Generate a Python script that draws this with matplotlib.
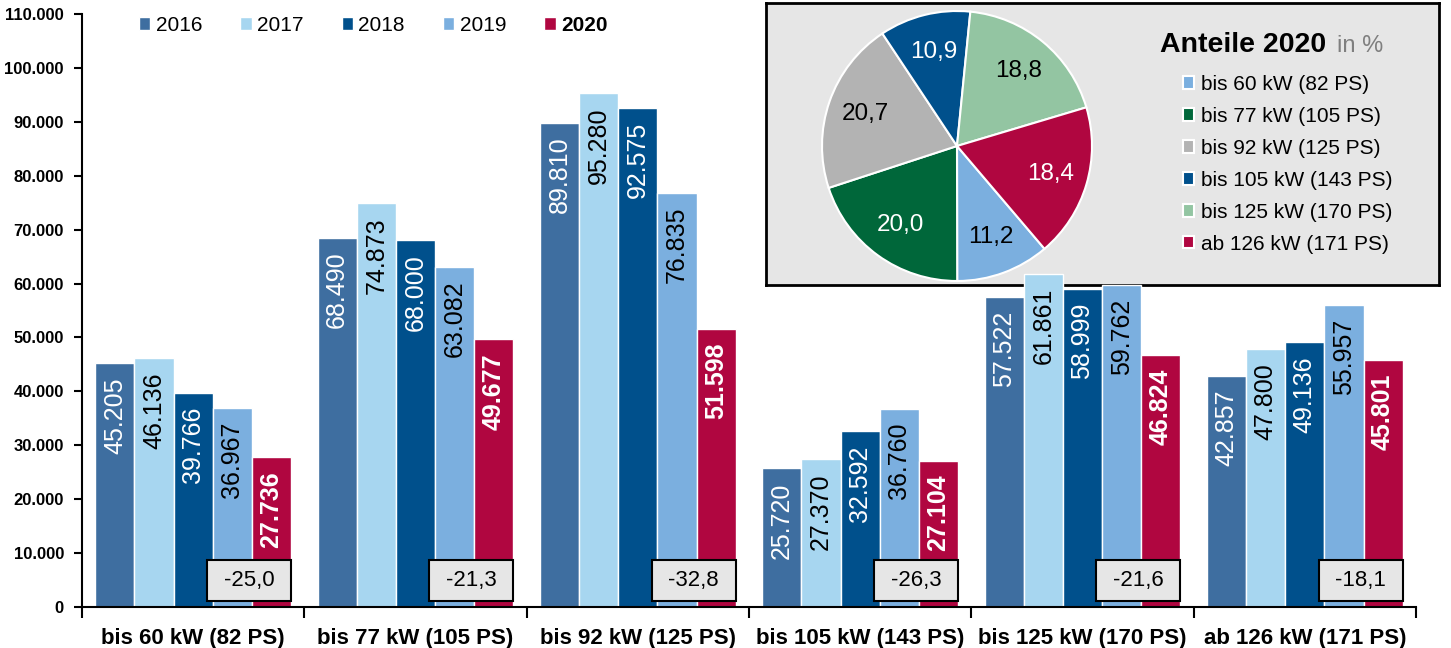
import numpy as np
import matplotlib.pyplot as plt
from matplotlib.patches import Rectangle
from matplotlib.ticker import FuncFormatter

plt.rcParams['font.family'] = ['Liberation Sans', 'DejaVu Sans']

categories = ['bis 60 kW (82 PS)', 'bis 77 kW (105 PS)', 'bis 92 kW (125 PS)',
              'bis 105 kW (143 PS)', 'bis 125 kW (170 PS)', 'ab 126 kW (171 PS)']
years = ['2016', '2017', '2018', '2019', '2020']
v2016 = [45205, 68490, 89810, 25720, 57522, 42857]
v2017 = [46136, 74873, 95280, 27370, 61861, 47800]
v2018 = [39766, 68000, 92575, 32592, 58999, 49136]
v2019 = [36967, 63082, 76835, 36760, 59762, 55957]
v2020 = [27736, 49677, 51598, 27104, 46824, 45801]
changes = [-25.0, -21.3, -32.8, -26.3, -21.6, -18.1]

pie_labels = ['bis 60 kW (82 PS)', 'bis 77 kW (105 PS)', 'bis 92 kW (125 PS)',
              'bis 105 kW (143 PS)', 'bis 125 kW (170 PS)', 'ab 126 kW (171 PS)']
pie_shares = [11.2, 20.0, 20.7, 10.9, 18.8, 18.4]

bar_colors = ['#3E6EA0', '#A7D6F0', '#00508C', '#7BAFDF', '#B00640']
text_colors = ['white', 'black', 'white', 'black', 'white']
pie_colors = ['#7BAFDF', '#00673A', '#B3B3B3', '#00508C', '#93C5A2', '#B00640']
pie_text_colors = ['black', 'white', 'black', 'white', 'black', 'white']

W, H = 1451, 648


def px(x0, y0, x1, y1):
    # pixel box -> figure fraction rect
    return [x0 / W, 1 - y1 / H, (x1 - x0) / W, (y1 - y0) / H]


fig = plt.figure(figsize=(W / 100, H / 100), dpi=100)

# grey box behind the pie
box_ax = fig.add_axes(px(766, 3, 1439, 285), zorder=0)
box_ax.set_facecolor('#E6E6E6')
box_ax.set_xticks([])
box_ax.set_yticks([])
for s in box_ax.spines.values():
    s.set_linewidth(2)
    s.set_color('black')

ax = fig.add_axes(px(82, 14, 1416, 607), zorder=1)
ax.patch.set_alpha(0)

series = [v2016, v2017, v2018, v2019, v2020]
x = np.arange(len(categories))
bw = 0.176
handles = []
for j, vals in enumerate(series):
    pos = x + (j - 2) * bw
    b = ax.bar(pos, vals, width=bw, color=bar_colors[j], edgecolor='white', linewidth=1, zorder=2)
    handles.append(b)
    for xp, v in zip(pos, vals):
        ax.annotate(f"{v:,}".replace(',', '.'), xy=(xp, v), xytext=(0, -10),
                    textcoords='offset points', rotation=90, ha='center', va='top',
                    color=text_colors[j], fontsize=18,
                    fontweight='bold' if j == 4 else 'normal', zorder=3)

# change boxes
bw_box = 0.378
for i, c in enumerate(changes):
    right = x[i] + 2.5 * bw
    ax.add_patch(Rectangle((right - bw_box, 1100), bw_box, 7600, facecolor='#E6E6E6',
                           edgecolor='black', linewidth=1.5, zorder=4))
    ax.text(right - bw_box / 2, 4900, f"{c:.1f}".replace('.', ','), ha='center', va='center',
            fontsize=16, zorder=5)

ax.set_xlim(-0.5, 5.5)
ax.set_ylim(0, 110000)
ax.set_yticks(np.arange(0, 110001, 10000))
ax.yaxis.set_major_formatter(FuncFormatter(lambda v, p: f"{v:,.0f}".replace(',', '.')))
for lbl in ax.get_yticklabels():
    lbl.set_fontweight('bold')
ax.tick_params(axis='y', length=6, width=1.5, labelsize=12, pad=7)

ax.set_xticks(np.arange(-0.5, 6, 1))
ax.set_xticklabels([])
ax.set_xticks(x, minor=True)
ax.set_xticklabels(categories, minor=True, fontsize=16, fontweight='bold')
ax.tick_params(axis='x', which='major', length=8, width=1.5)
ax.tick_params(axis='x', which='minor', length=0, pad=15)

for s in ['top', 'right']:
    ax.spines[s].set_visible(False)
for s in ['left', 'bottom']:
    ax.spines[s].set_linewidth(1.5)

leg = ax.legend(handles, years, loc='upper left', bbox_to_anchor=(139 / W, 1 - 16 / H),
                bbox_transform=fig.transFigure, ncol=5, frameon=False, fontsize=15,
                handlelength=0.55, handleheight=0.55, handletextpad=0.25,
                columnspacing=1.83, borderpad=0, borderaxespad=0)
leg.get_texts()[4].set_fontweight('bold')

# pie inset
pie_ax = fig.add_axes(px(822, 11, 1092, 281), zorder=2)
wedges, texts, autotexts = pie_ax.pie(
    pie_shares, colors=pie_colors, startangle=-49.6, counterclock=False,
    autopct=lambda p: f"{p:.1f}".replace('.', ','), pctdistance=0.72,
    wedgeprops=dict(edgecolor='white', linewidth=1.5), textprops=dict(fontsize=17.5))
for t, c in zip(autotexts, pie_text_colors):
    t.set_color(c)
pie_ax.set_xlim(-1.0, 1.0)
pie_ax.set_ylim(-1.0, 1.0)

pie_ax.legend(wedges, pie_labels, loc='upper left', bbox_to_anchor=(1183 / W, 1 - 75 / H),
              bbox_transform=fig.transFigure, frameon=False, fontsize=15,
              handlelength=0.55, handleheight=0.55, handletextpad=0.3,
              labelspacing=0.62, borderpad=0, borderaxespad=0)

fig.text(1160 / W, 1 - 52 / H, 'Anteile 2020', fontsize=20.5, fontweight='bold', va='baseline')
fig.text(1337 / W, 1 - 52 / H, 'in %', fontsize=17, color='#7F7F7F', va='baseline')

fig.savefig('out.png', dpi=100)
